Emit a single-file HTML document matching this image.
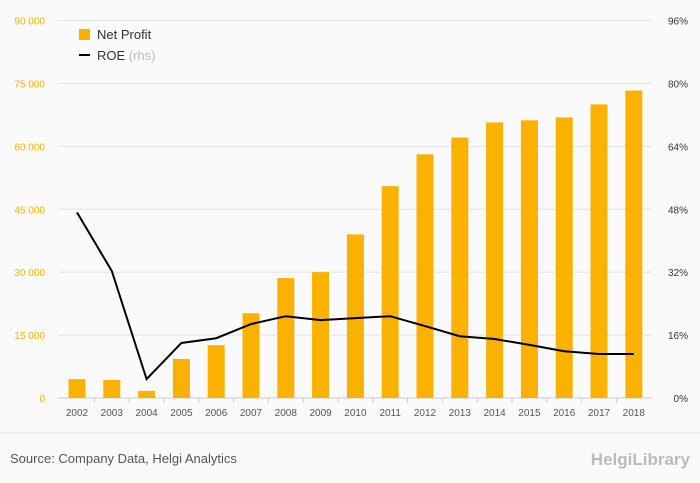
<!DOCTYPE html>
<html><head><meta charset="utf-8"><style>
body{margin:0;background:#fafafa;font-family:"Liberation Sans",sans-serif;}
svg{display:block}
</style></head><body>
<svg width="700" height="483" id="c" xmlns="http://www.w3.org/2000/svg">
<rect width="700" height="483" fill="#fafafa"/>
<g id="grid"></g><g id="bars"></g><g id="line"></g><g id="axes"></g>
<g>
<rect x="79" y="29" width="11" height="11" fill="#fbb100"/>
<text x="97" y="39" font-size="13" fill="#333">Net Profit</text>
<rect x="79" y="54" width="11" height="2" fill="#000"/>
<text x="97" y="60" font-size="13" fill="#333">ROE <tspan fill="#bbb">(rhs)</tspan></text>
</g>
<line x1="0" y1="433" x2="700" y2="433" stroke="#e3e3e3"/>
<text x="10" y="463" font-size="13" fill="#555">Source: Company Data, Helgi Analytics</text>
<text x="690" y="465" font-size="17" fill="#bbb" text-anchor="end" font-weight="bold">HelgiLibrary</text>
</svg>
<script>
const years=[2002,2003,2004,2005,2006,2007,2008,2009,2010,2011,2012,2013,2014,2015,2016,2017,2018];
const netProfit=[4500,4300,1700,9300,12600,20200,28600,30000,39000,50500,58100,62100,65700,66200,66900,70000,73300];
const roe=[47.2,32.3,4.8,14,15.2,18.8,20.8,19.8,20.3,20.8,18.3,15.7,15,13.5,11.9,11.2,11.2];
const leftTicks=[0,15000,30000,45000,60000,75000,90000];
const rightTicks=[0,16,32,48,64,80,96];
const NS="http://www.w3.org/2000/svg";
const y0=398,yTop=20.5;
const yL=v=>y0-(v/90000)*(y0-yTop);
const yR=v=>y0-(v/96)*(y0-yTop);
const x=i=>77+i*34.8;
function mk(t,a,p){const e=document.createElementNS(NS,t);for(const k in a)e.setAttribute(k,a[k]);p.appendChild(e);return e;}
const G=document.getElementById('grid'),B=document.getElementById('bars'),L=document.getElementById('line'),A=document.getElementById('axes');
leftTicks.forEach((v,i)=>{
 const ln=mk('line',{x1:58,x2:652,y1:yL(v),y2:yL(v),stroke:i==0?'#ccc':'#e3e3e3'},G);
 
 
 const t=mk('text',{x:45,y:yL(v)+4,'font-size':10,fill:'#fbb100','text-anchor':'end'},A);
 t.textContent=v==0?'0':(v/1000)+' 000';
 
 
});
rightTicks.forEach(v=>{
 const t=mk('text',{x:688,y:yR(v)+4,'font-size':10,fill:'#333','text-anchor':'end'},A);
 t.textContent=v+'%';
 
 
});
years.forEach((yr,i)=>{
 const r=mk('rect',{x:x(i)-8.5,y:yL(netProfit[i]),width:17,height:y0-yL(netProfit[i]),fill:'#fbb100'},B);
 
 
 const t=mk('text',{x:x(i),y:416,'font-size':10,fill:'#555','text-anchor':'middle'},A);
 t.textContent=yr;
 
 
 if(i<years.length-1){const s=mk('line',{x1:x(i)+17.4,x2:x(i)+17.4,y1:y0,y2:y0+5,stroke:'#ccc'},A);
 
 }
});
const p=mk('polyline',{points:roe.map((v,i)=>x(i)+','+yR(v)).join(' '),fill:'none',stroke:'#000','stroke-width':2},L);


</script>
</body></html>
